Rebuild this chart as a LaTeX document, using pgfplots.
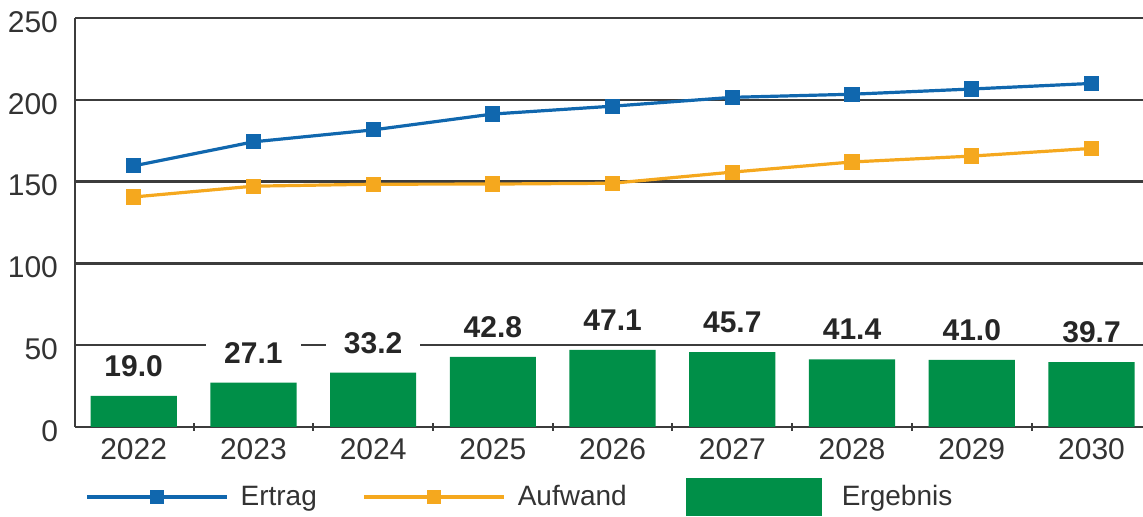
\documentclass[border=0pt]{standalone}
\usepackage{pgfplots}
\pgfplotsset{compat=1.18}
\usepackage{fontspec}
\setmainfont{Liberation Sans}

\definecolor{ertrag}{HTML}{1067AE}
\definecolor{aufwand}{HTML}{F5A81E}
\definecolor{ergebnis}{HTML}{008F48}
\definecolor{gridc}{HTML}{3C3C3C}
\definecolor{textc}{HTML}{333333}

\begin{document}
\begin{tikzpicture}
\begin{axis}[
  width=534pt, height=204.5pt,
  scale only axis,
  xmin=-0.49, xmax=8.43,
  ymin=0, ymax=250,
  axis lines=left,
  axis line style={-, line width=1.2pt, gridc},
  ytick={0,50,100,150,200,250},
  ymajorgrids=true,
  grid style={line width=1.2pt, gridc},
  xtick={0,...,8},
  xticklabels={2022,2023,2024,2025,2026,2027,2028,2029,2030},
  minor xtick={0.5,1.5,...,7.5},
  major tick length=0pt,
  minor tick length=4pt,
  minor tick style={line width=1pt, gridc},
  tick label style={font=\fontsize{15}{15}\selectfont, text=textc},
  yticklabel style={xshift=-5pt, yshift=-2pt},
  xticklabel style={yshift=-2pt},
  /pgf/number format/assume math mode=true,
  reverse legend,
  legend columns=3,
  legend style={at={(axis description cs:0,0)}, anchor=west,
    xshift=5pt, yshift=-35pt, draw=none, inner sep=0pt,
    font=\fontsize{14}{14}\selectfont, text=textc,
    /tikz/column sep=4pt},
]

% Ergebnis (bars)
\addplot[ybar, bar width=0.72, fill=ergebnis, draw=none,
  nodes near coords,
  nodes near coords style={font=\bfseries\fontsize{15}{15}\selectfont,
    text=black!85, fill=white, inner xsep=9pt, inner ysep=0pt,
    text height=13pt, text depth=0pt, anchor=south, yshift=9.5pt},
  /pgf/number format/.cd, fixed, fixed zerofill, precision=1,
  /pgfplots/.cd,
  legend image code/.code={\fill[ergebnis] (0pt,-9.5pt) rectangle (68pt,9.5pt);
    \path (72pt,0pt);}]
  coordinates {(0,19.0)(1,27.1)(2,33.2)(3,42.8)(4,47.1)(5,45.7)(6,41.4)(7,41.0)(8,39.7)};
\addlegendentry{Ergebnis}

% Aufwand
\addplot[aufwand, line width=1.6pt, mark=square*, mark size=3pt,
  legend image code/.code={\draw[mark repeat=2, mark phase=2, mark size=2.6pt]
    plot coordinates {(0pt,0pt)(35pt,0pt)(70pt,0pt)};}]
  coordinates {(0,140.6)(1,147.2)(2,148.4)(3,148.5)(4,149.0)(5,155.8)(6,162.0)(7,165.6)(8,170.3)};
\addlegendentry{\makebox[78pt][l]{Aufwand}}

% Ertrag
\addplot[ertrag, line width=1.6pt, mark=square*, mark size=3pt,
  legend image code/.code={\draw[mark repeat=2, mark phase=2, mark size=2.6pt]
    plot coordinates {(0pt,0pt)(35pt,0pt)(70pt,0pt)};}]
  coordinates {(0,159.6)(1,174.3)(2,181.6)(3,191.3)(4,196.1)(5,201.5)(6,203.4)(7,206.6)(8,210.0)};
\addlegendentry{\makebox[55pt][l]{Ertrag}}

\end{axis}
\pgfresetboundingbox
\useasboundingbox (-37.5pt,-45pt) rectangle (534pt,213.5pt);
\end{tikzpicture}
\end{document}
